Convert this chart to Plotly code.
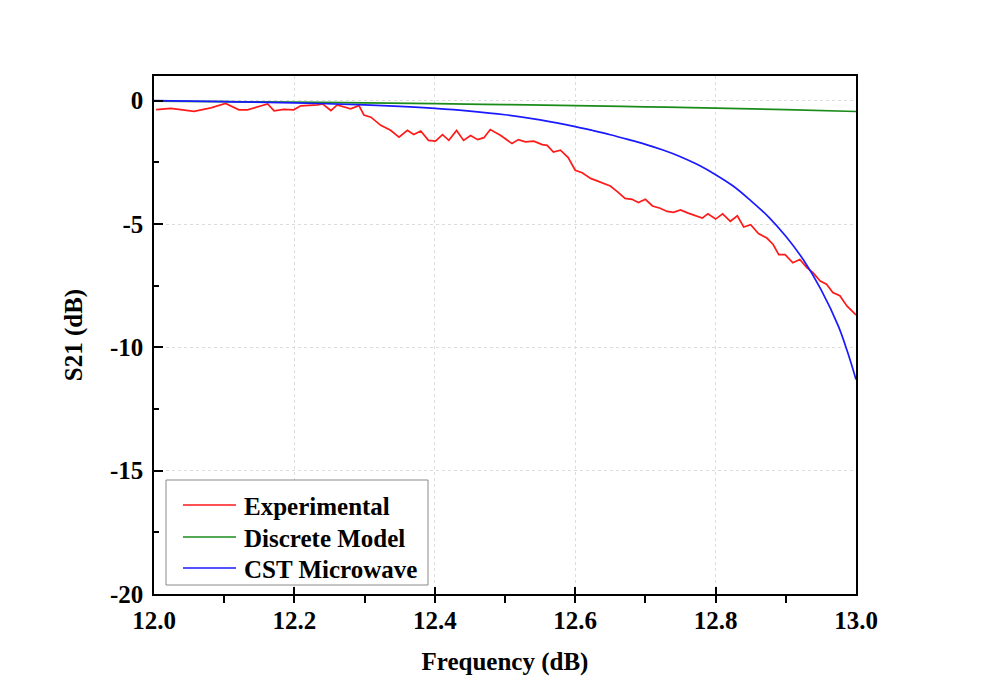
import plotly.graph_objects as go

# ---- data ----
exp_freq = [12.003, 12.024, 12.057, 12.081, 12.102, 12.121, 12.133, 12.143, 12.162, 12.171,
            12.185, 12.199, 12.209, 12.233, 12.240, 12.252, 12.261, 12.280, 12.292, 12.299,
            12.309, 12.323, 12.337, 12.349, 12.361, 12.370, 12.380, 12.391, 12.401, 12.411,
            12.420, 12.431, 12.441, 12.451, 12.461, 12.470, 12.479, 12.494, 12.510, 12.519,
            12.529, 12.541, 12.553, 12.560, 12.569, 12.579, 12.590, 12.600, 12.610, 12.622,
            12.636, 12.650, 12.660, 12.671, 12.681, 12.690, 12.700, 12.710, 12.721, 12.731,
            12.740, 12.750, 12.761, 12.781, 12.789, 12.800, 12.810, 12.821, 12.831, 12.840,
            12.850, 12.861, 12.873, 12.882, 12.890, 12.899, 12.910, 12.920, 12.930, 12.939,
            12.949, 12.958, 12.967, 12.977, 12.987, 13.000]
exp_s21 = [-0.36, -0.31, -0.43, -0.29, -0.11, -0.37, -0.37, -0.29, -0.13, -0.41,
           -0.35, -0.37, -0.21, -0.17, -0.13, -0.40, -0.17, -0.33, -0.20, -0.58,
           -0.67, -1.00, -1.20, -1.48, -1.20, -1.37, -1.23, -1.61, -1.64, -1.38,
           -1.61, -1.21, -1.61, -1.41, -1.58, -1.50, -1.17, -1.41, -1.74, -1.58,
           -1.67, -1.64, -1.78, -1.81, -2.08, -2.01, -2.31, -2.82, -2.92, -3.15,
           -3.29, -3.46, -3.69, -3.96, -4.00, -4.13, -4.00, -4.27, -4.36, -4.49,
           -4.53, -4.43, -4.56, -4.76, -4.59, -4.80, -4.59, -4.89, -4.67, -5.12,
           -5.03, -5.39, -5.57, -5.83, -6.24, -6.24, -6.57, -6.44, -6.77, -6.98,
           -7.31, -7.44, -7.78, -7.91, -8.32, -8.69]

model_freq = [12.0, 12.1, 12.2, 12.3, 12.4, 12.5, 12.6, 12.7, 12.8, 12.9, 13.0]
model_s21 = [-0.02, -0.04, -0.06, -0.09, -0.12, -0.16, -0.20, -0.25, -0.30, -0.36, -0.44]

cst_freq = [12.0, 12.1, 12.2, 12.3, 12.35, 12.4, 12.45, 12.5, 12.55, 12.6, 12.625, 12.65,
            12.675, 12.7, 12.725, 12.75, 12.775, 12.8, 12.825, 12.85, 12.875, 12.9,
            12.925, 12.95, 12.975, 12.9875, 13.0]
cst_s21 = [0.0, -0.04, -0.09, -0.17, -0.23, -0.31, -0.42, -0.57, -0.78, -1.05, -1.21, -1.38,
           -1.57, -1.77, -2.00, -2.27, -2.60, -3.00, -3.46, -4.05, -4.70, -5.50,
           -6.45, -7.65, -9.15, -10.15, -11.30]

x_ticks = [12.0, 12.2, 12.4, 12.6, 12.8, 13.0]
x_tick_labels = ["12.0", "12.2", "12.4", "12.6", "12.8", "13.0"]
y_ticks = [0, -5, -10, -15, -20]
y_tick_labels = ["0", "-5", "-10", "-15", "-20"]

series_names = ["Experimental", "Discrete Model", "CST Microwave"]
series_colors = ["#ff1a1a", "#1a8c1a", "#1a1aff"]

FONT = "Liberation Serif, Times New Roman, serif"
FS = 25

fig = go.Figure()
fig.add_trace(go.Scatter(x=exp_freq, y=exp_s21, mode="lines", name=series_names[0],
                         line=dict(color=series_colors[0], width=1.7)))
fig.add_trace(go.Scatter(x=model_freq, y=model_s21, mode="lines", name=series_names[1],
                         line=dict(color=series_colors[1], width=1.7, shape="spline")))
fig.add_trace(go.Scatter(x=cst_freq, y=cst_s21, mode="lines", name=series_names[2],
                         line=dict(color=series_colors[2], width=1.7, shape="spline")))

axis_common = dict(
    showline=True, linecolor="black", linewidth=1.5, mirror=True,
    showgrid=True, gridcolor="#dcdcdc", griddash="dot", gridwidth=1,
    zeroline=False, ticks="inside", tickcolor="black", tickwidth=1.5,
    tickfont=dict(family=FONT, size=FS, color="black"),
)

fig.update_xaxes(
    **axis_common,
    range=[12.0, 13.0], tickvals=x_ticks,
    ticktext=[f"<b>{t}</b>" for t in x_tick_labels],
    ticklen=7, ticklabelstandoff=3,
    minor=dict(ticks="outside", dtick=0.1, ticklen=7, tickcolor="black", tickwidth=1.5,
               showgrid=False),
    title=dict(text="<b>Frequency (dB)</b>", font=dict(family=FONT, size=FS, color="black"),
               standoff=20),
)
fig.update_yaxes(
    **axis_common,
    range=[-20, 1], tickvals=y_ticks,
    ticktext=[f"<b>{t}</b>" for t in y_tick_labels],
    ticklen=9, ticklabelstandoff=4,
    minor=dict(ticks="inside", dtick=2.5, ticklen=5, tickcolor="black", tickwidth=1.5,
               showgrid=False),
    title=dict(text="<b>S21 (dB)</b>", font=dict(family=FONT, size=FS, color="black"),
               standoff=20),
)

# ---- legend drawn in paper coordinates (plot area 702 x 518 px) ----
PW, PH = 702.0, 518.0
def px(xp):
    return (xp - 154) / PW
def py(yp):
    return (594 - yp) / PH

shapes = [dict(type="rect", xref="paper", yref="paper",
               x0=px(166), x1=px(428), y0=py(585), y1=py(480),
               line=dict(color="#8a8a8a", width=1), fillcolor="white", layer="above")]
annotations = []
row_y = [505, 537, 568]
for name, col, ry in zip(series_names, series_colors, row_y):
    shapes.append(dict(type="line", xref="paper", yref="paper",
                       x0=px(183), x1=px(236), y0=py(ry), y1=py(ry),
                       line=dict(color=col, width=1.7), layer="above"))
    annotations.append(dict(xref="paper", yref="paper", x=px(242), y=py(ry + 1),
                            xanchor="left", yanchor="middle", showarrow=False,
                            text=f"<b>{name}</b>",
                            font=dict(family=FONT, size=FS, color="black")))

fig.update_layout(
    width=982, height=695,
    margin=dict(l=154, r=126, t=76, b=101, autoexpand=False),
    plot_bgcolor="white", paper_bgcolor="white",
    font=dict(family=FONT, size=FS, color="black"),
    showlegend=False,
    shapes=shapes, annotations=annotations,
)

fig.write_html("out.html")
